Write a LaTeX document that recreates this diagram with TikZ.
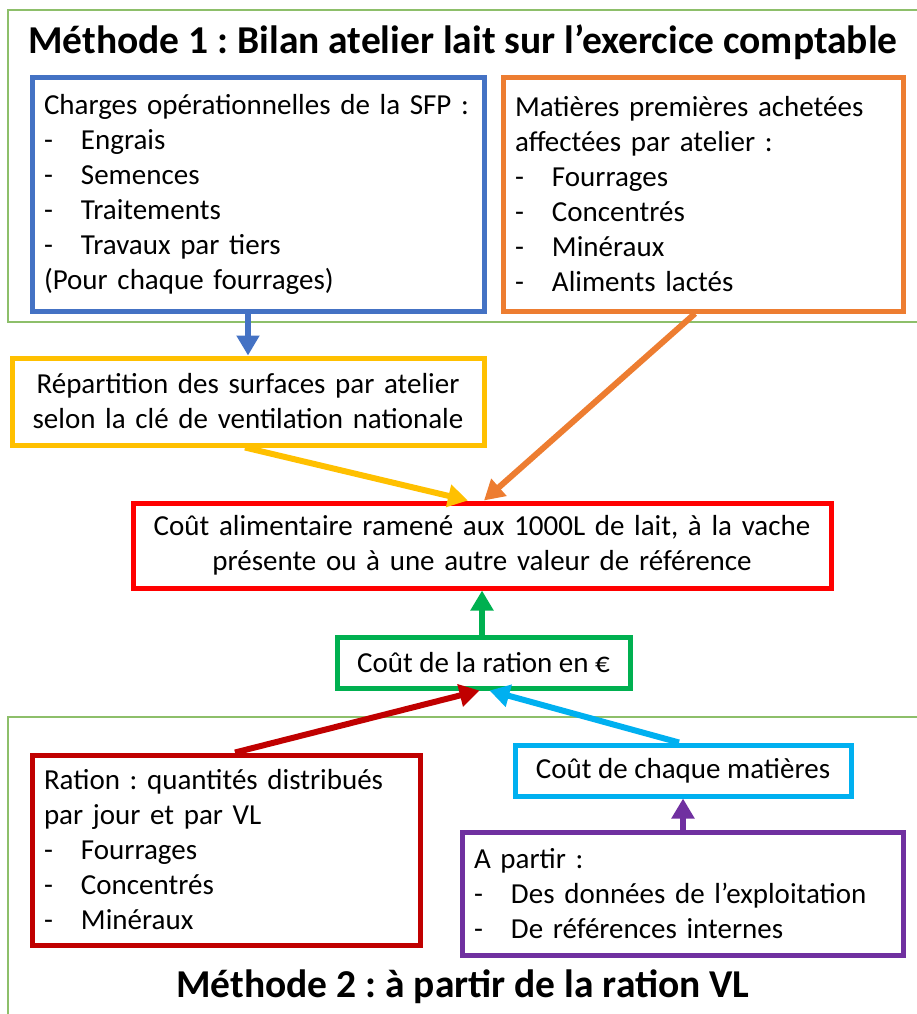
\documentclass[tikz,border=0pt]{standalone}
\usepackage{fontspec}
\setmainfont{Carlito}
\usetikzlibrary{arrows.meta}
\usetikzlibrary{calc}
\usepackage{xcolor}
\definecolor{cadreVert}{HTML}{8DBF6A}
\definecolor{bleuSFP}{HTML}{4472C4}
\definecolor{orangeMP}{HTML}{ED7D31}
\definecolor{jauneRep}{HTML}{FFC000}
\definecolor{rougeCout}{HTML}{FF0000}
\definecolor{vertRation}{HTML}{00B050}
\definecolor{bordeaux}{HTML}{C00000}
\definecolor{cyanMat}{HTML}{00B0F0}
\definecolor{violetRef}{HTML}{7030A0}
\newcommand{\puce}[1]{\makebox[37pt][l]{-}#1}
\frenchspacing

\begin{document}
\begin{tikzpicture}[x=1pt,y=-1pt,
        boite/.style={draw,line width=5pt,inner xsep=12pt,inner ysep=0pt,
            font=\fontsize{29}{35}\selectfont},
        fleche/.style={line width=6pt,-{Triangle[width=22pt,length=20pt]}},
        titre/.style={font=\fontsize{39.5}{42}\selectfont\bfseries}]
                \useasboundingbox (0,0) rectangle (916,1014);
                % cadres des deux methodes
                \draw[cadreVert,line width=1.2pt] (8,10) rectangle (925,322);
                \draw[cadreVert,line width=1.2pt] (8,717) rectangle (925,1025);
                \node[titre] (titre1) at (463,42)
                    {Méthode 1 : Bilan atelier lait sur l’exercice comptable};
                \node[titre] (titre2) at (463,987)
                    {Méthode 2 : à partir de la ration VL};
                % methode 1
                \node[boite,draw=bleuSFP,minimum width=452pt,minimum height=233pt,
                    text width=428pt,align=left] (charges) at (258,194.5)
                    {Charges opérationnelles de la SFP :\\
                     \puce{Engrais}\\
                     \puce{Semences}\\
                     \puce{Traitements}\\
                     \puce{Travaux par tiers}\\
                     (Pour chaque fourrages)};
                \node[boite,draw=orangeMP,minimum width=400pt,minimum height=233pt,
                    text width=376pt,align=left] (matieres) at (703,194.5)
                    {Matières premières achetées\\
                     affectées par atelier :\\
                     \puce{Fourrages}\\
                     \puce{Concentrés}\\
                     \puce{Minéraux}\\
                     \puce{Aliments lactés}};
                \node[boite,draw=jauneRep,minimum width=472pt,minimum height=87pt,
                    text width=448pt,align=center] (repartition) at (248,401.5)
                    {Répartition des surfaces par atelier\\
                     selon la clé de ventilation nationale};
                % resultat
                \node[boite,draw=rougeCout,minimum width=698pt,minimum height=85pt,
                    text width=674pt,align=center] (cout) at (482,545.5)
                    {Coût alimentaire ramené aux 1000L de lait, à la vache\\
                     présente ou à une autre valeur de référence};
                \node[boite,draw=vertRation,minimum width=293pt,minimum height=51pt]
                    (ration) at (483.5,662.5) {Coût de la ration en €};
                % methode 2
                \node[boite,draw=bordeaux,minimum width=388pt,minimum height=190pt,
                    text width=364pt,align=left] (quantites) at (226,850)
                    {Ration : quantités distribués\\
                     par jour et par VL\\
                     \puce{Fourrages}\\
                     \puce{Concentrés}\\
                     \puce{Minéraux}};
                \node[boite,draw=cyanMat,minimum width=336pt,minimum height=51pt]
                    (prix) at (683,770.5) {Coût de chaque matières};
                \node[boite,draw=violetRef,minimum width=441pt,minimum height=123pt,
                    text width=417pt,align=left] (sources) at (682.5,893.5)
                    {A partir :\\
                     \puce{Des données de l’exploitation}\\
                     \puce{De références internes}};
                % fleches
                \draw[fleche,bleuSFP] (charges.south -| repartition.north) -- (repartition.north);
                \draw[fleche,jauneRep] ($(repartition.south)+(-3,0)$) -- ($(cout.north)+(-14,0)$);
                \draw[fleche,orangeMP] ($(matieres.south)+(-8,0)$) -- ($(cout.north)+(2,0)$);
                \draw[fleche,vertRation] (ration.north -| cout.south) -- (cout.south);
                \draw[fleche,bordeaux] ($(quantites.north)+(9,0)$) -- ($(ration.south)+(-4,0)$);
                \draw[fleche,cyanMat] ($(prix.north)+(-4,0)$) -- ($(ration.south)+(6,0)$);
                \draw[fleche,violetRef] (sources.north -| prix.south) -- (prix.south);
\end{tikzpicture}
\end{document}
